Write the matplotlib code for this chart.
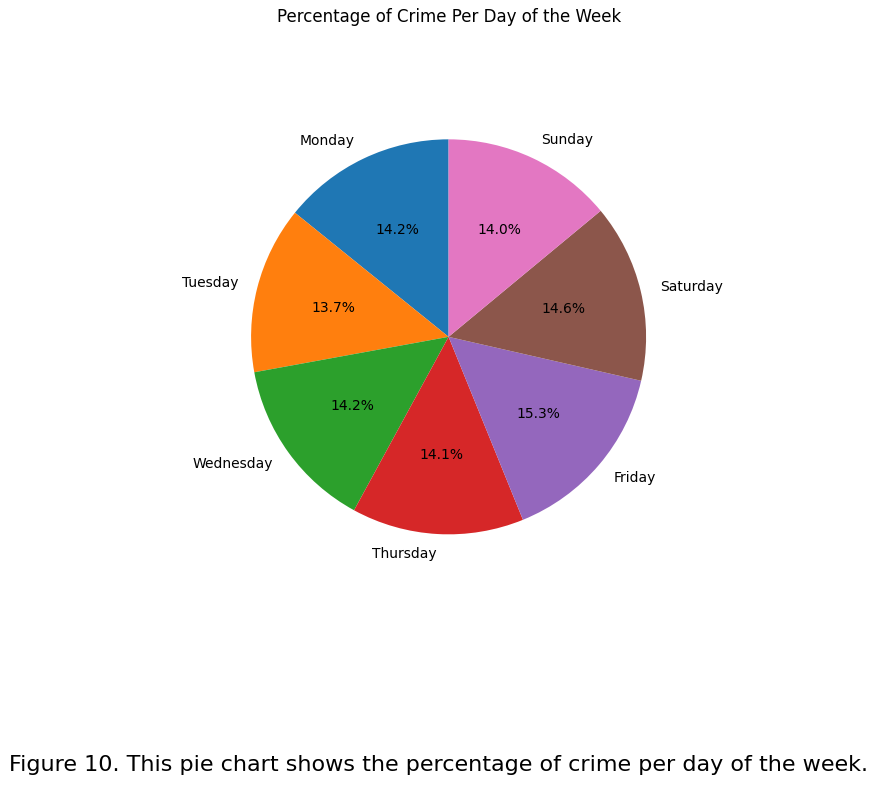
import matplotlib.pyplot as plt

days = ["Monday", "Tuesday", "Wednesday", "Thursday", "Friday", "Saturday", "Sunday"]
shares = [14.2, 13.7, 14.2, 14.1, 15.3, 14.6, 14.0]

plt.rcParams["font.size"] = 10
fig = plt.figure(figsize=(8.77, 7.87), dpi=100)
ax = fig.add_axes([0.230, 0.258, 0.563, 0.628])
ax.pie(shares, labels=days, autopct="%1.1f%%", startangle=90)
fig.text(0.512, 1 - 17 / 787, "Percentage of Crime Per Day of the Week",
         ha="center", va="center", fontsize=12)
fig.text(0.5, 1 - 765 / 787, "Figure 10. This pie chart shows the percentage of crime per day of the week.",
         ha="center", va="center", fontsize=16)
fig.savefig("out.png", dpi=100)
